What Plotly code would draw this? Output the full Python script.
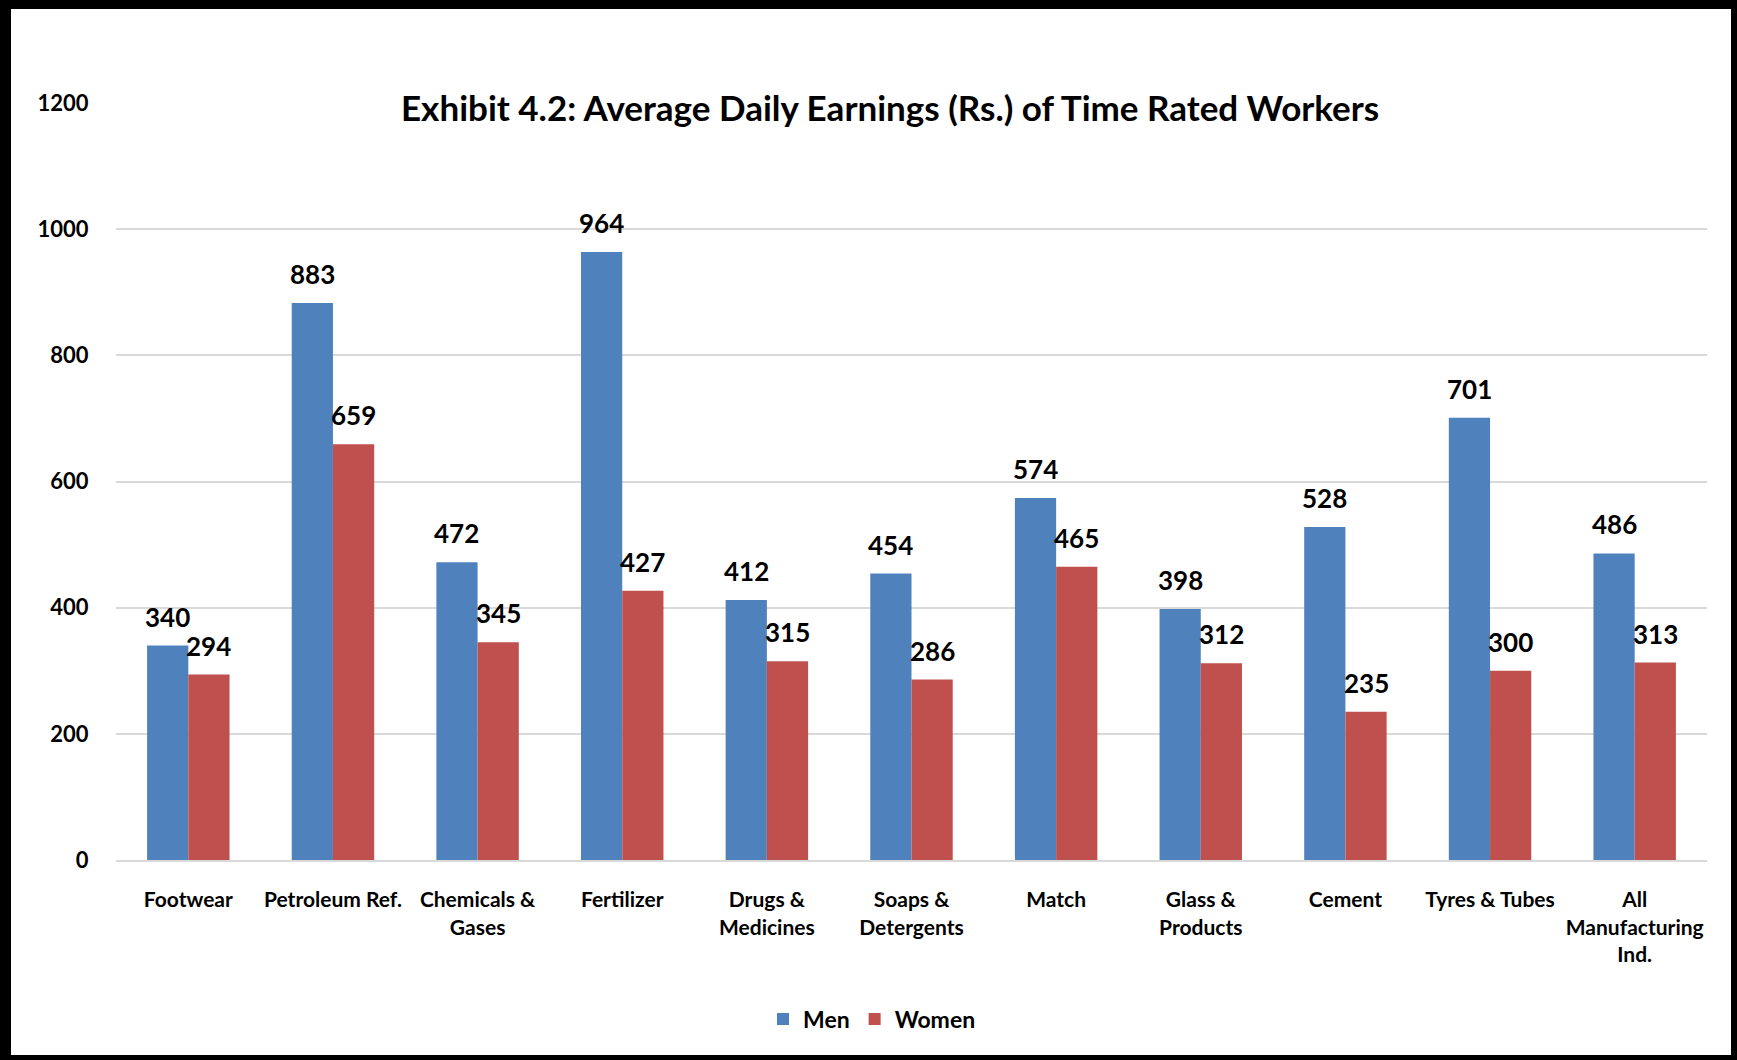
import plotly.graph_objects as go

categories = ["Footwear", "Petroleum Ref.", "Chemicals &<br>Gases", "Fertilizer",
              "Drugs &<br>Medicines", "Soaps &<br>Detergents", "Match",
              "Glass &<br>Products", "Cement", "Tyres & Tubes",
              "All<br>Manufacturing<br>Ind."]
men = [340, 883, 472, 964, 412, 454, 574, 398, 528, 701, 486]
women = [294, 659, 345, 427, 315, 286, 465, 312, 235, 300, 313]
y_ticks = [0, 200, 400, 600, 800, 1000, 1200]
title_text = "Exhibit 4.2: Average Daily Earnings (Rs.) of Time Rated Workers"

FONT = "Lato"
W, H = 1737, 1060
L, R, T, B = 116, 30, 103, 200
pw, ph = W - L - R, H - T - B
BARGAP = 0.43
bar_px = pw / len(categories) * (1 - BARGAP) / 2

fig = go.Figure()
fig.add_trace(go.Bar(x=categories, y=men, name="Men", marker_color="#4F81BD",
                     marker_line_width=0))
fig.add_trace(go.Bar(x=categories, y=women, name="Women", marker_color="#C0504D",
                     marker_line_width=0))


def px_x(p):
    return (p - L) / pw


def px_y(p):
    return (H - B - p) / ph


border = [
    (0, 0, W, 9),
    (0, 0, 11, H),
    (W - 6, 0, W, H),
    (0, H - 5, W, H),
]
shapes = []
for x0, y0, x1, y1 in border:
    shapes.append(dict(type="rect", xref="paper", yref="paper",
                       x0=px_x(x0), x1=px_x(x1), y0=px_y(y1), y1=px_y(y0),
                       fillcolor="black", line=dict(width=0), layer="above"))

annotations = []
for series, shift in ((men, -bar_px / 2), (women, bar_px / 2)):
    for cat, val in zip(categories, series):
        annotations.append(dict(x=cat, y=val, xref="x", yref="y", text=str(val),
                                showarrow=False, xshift=shift, yshift=29,
                                xanchor="center", yanchor="middle",
                                font=dict(family=FONT, size=26, color="black",
                                          weight="bold")))
annotations.append(dict(text=title_text, xref="paper", yref="paper",
                        x=px_x(890), y=px_y(107), xanchor="center", yanchor="middle",
                        showarrow=False, bgcolor="white",
                        font=dict(family=FONT, size=35, color="black", weight="bold")))

fig.update_layout(
    width=W, height=H,
    margin=dict(l=L, r=R, t=T, b=B),
    paper_bgcolor="white", plot_bgcolor="white",
    barmode="group", bargap=BARGAP, bargroupgap=0,
    font=dict(family=FONT, color="black"),
    showlegend=True,
    legend=dict(orientation="h", x=px_x(872), xanchor="center",
                y=px_y(1019), yanchor="middle",
                font=dict(family=FONT, size=23, color="black", weight="bold"),
                itemwidth=30, tracegroupgap=0),
    shapes=shapes,
    annotations=annotations,
)
fig.update_xaxes(showgrid=False, showline=True, linecolor="#D9D9D9", linewidth=2,
                 ticks="outside", ticklen=20, tickcolor="rgba(0,0,0,0)",
                 tickfont=dict(family=FONT, size=21, color="black", weight="bold"),
                 tickangle=0)
fig.update_yaxes(range=[0, 1200], tickvals=y_ticks, showgrid=True, gridcolor="#D9D9D9",
                 gridwidth=2, zeroline=False, showline=False,
                 ticks="outside", ticklen=22, tickcolor="rgba(0,0,0,0)",
                 tickfont=dict(family=FONT, size=22, color="black", weight="bold"))

fig.write_html("out.html", config={"displayModeBar": False},
               post_script="document.body.style.margin='0';")
